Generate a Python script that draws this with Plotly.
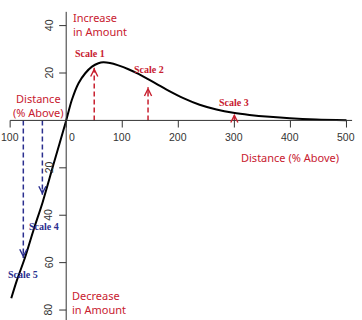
import plotly.graph_objects as go

# ---------------- data ----------------
curve_x = [-98, -88, -73, -58, -42, -22, 0, 10, 22, 34, 46, 57.5, 66, 78, 93, 111, 129, 146, 164,
           179, 209, 238, 268, 298, 327, 363, 399, 446, 500]
curve_y = [-75, -67.5, -57.5, -46, -34.5, -18, 0, 8.6, 15.7, 19.9, 22.7, 24.1, 24.5, 24.2, 23.2,
           21.6, 19.6, 17.4, 15.0, 13.0, 9.4, 6.6, 4.6, 3.2, 2.3, 1.5, 0.9, 0.4, 0.1]

x_tick_vals = [-100, 0, 100, 200, 300, 400, 500]
x_tick_text = ["100", "0", "100", "200", "300", "400", "500"]
y_tick_vals = [40, 20, -20, -40, -60, -80]
y_tick_text = ["40", "20", "20", "40", "60", "80"]

scale_names = ["Scale 1", "Scale 2", "Scale 3", "Scale 4", "Scale 5"]
scale_x = [50, 146, 300, -42.5, -76.5]
scale_tip = [22.2, 14.0, 2.8, -31.4, -58.0]
scale_label_x = [42, 148, 299, -40, -76.5]
scale_label_y = [28.1, 21.3, 7.5, -44.8, -65.2]

RED = "#c8202f"
BLUE = "#2b2f8f"
AXIS = "#333333"

X_RANGE = [-118.1, 527.7]
Y_RANGE = [-84.2, 50.8]

fig = go.Figure()

# main curve
fig.add_trace(go.Scatter(x=curve_x, y=curve_y, mode="lines",
                         line=dict(color="black", width=2, shape="spline", smoothing=0.8),
                         hoverinfo="skip", showlegend=False))

# axes lines
fig.add_shape(type="line", x0=-100, x1=510, y0=0, y1=0, xref="x", yref="y",
              line=dict(color=AXIS, width=1))
fig.add_shape(type="line", x0=0, x1=0, y0=Y_RANGE[0], y1=45.8, xref="x", yref="y",
              line=dict(color=AXIS, width=1))

# x ticks
for v, t in zip(x_tick_vals, x_tick_text):
    fig.add_shape(type="line", x0=v, x1=v, y0=0, y1=-3, xref="x", yref="y",
                  line=dict(color=AXIS, width=1))
    fig.add_annotation(x=(v + 11 if v == 0 else v), y=-7, text=t, showarrow=False,
                       font=dict(family="Liberation Sans, Arial", size=10.5, color=AXIS),
                       xanchor="center", yanchor="middle")

# y ticks
for v, t in zip(y_tick_vals, y_tick_text):
    fig.add_shape(type="line", x0=-12.5, x1=0, y0=v, y1=v, xref="x", yref="y",
                  line=dict(color=AXIS, width=1))
    fig.add_annotation(x=-31.5, y=v, text=t, showarrow=False, textangle=-90,
                       font=dict(family="Liberation Sans, Arial", size=10.5, color=AXIS),
                       xanchor="center", yanchor="middle")

# scale arrows
for i, name in enumerate(scale_names):
    col = RED if scale_tip[i] > 0 else BLUE
    fig.add_trace(go.Scatter(x=[scale_x[i], scale_x[i]], y=[0, scale_tip[i]], mode="lines",
                             line=dict(color=col, width=1.5, dash="5px,3px"),
                             hoverinfo="skip", showlegend=False))
    fig.add_annotation(x=scale_x[i], y=scale_tip[i], ax=0, ay=(6 if scale_tip[i] > 0 else -6),
                       text="", showarrow=True, arrowhead=5, arrowsize=1, arrowwidth=1.4,
                       arrowcolor=col, standoff=0)
    fig.add_annotation(x=scale_label_x[i], y=scale_label_y[i], text="<b>" + name + "</b>",
                       showarrow=False,
                       font=dict(family="Liberation Serif, Times New Roman", size=10, color=col),
                       xanchor="center", yanchor="middle")

label_font = dict(family="Noto Sans", size=11, color=RED)
fig.add_annotation(x=8.9, y=40.3, text="Increase<br>in Amount", showarrow=False,
                   xanchor="left", yanchor="middle", align="left", font=label_font)
fig.add_annotation(x=7.1, y=-76.8, text="Decrease<br>in Amount", showarrow=False,
                   xanchor="left", yanchor="middle", align="left", font=label_font)
fig.add_annotation(x=-50, y=6.1, text="Distance<br>(% Above)", showarrow=False,
                   xanchor="center", yanchor="middle", align="center", font=label_font)
fig.add_annotation(x=398.6, y=-15.8, text="Distance (% Above)", showarrow=False,
                   xanchor="center", yanchor="middle", font=label_font)

fig.update_layout(
    width=362, height=320,
    margin=dict(l=0, r=0, t=0, b=0),
    paper_bgcolor="white", plot_bgcolor="white",
    xaxis=dict(range=X_RANGE, visible=False, fixedrange=True),
    yaxis=dict(range=Y_RANGE, visible=False, fixedrange=True),
    showlegend=False,
)

fig.write_html("out.html")
